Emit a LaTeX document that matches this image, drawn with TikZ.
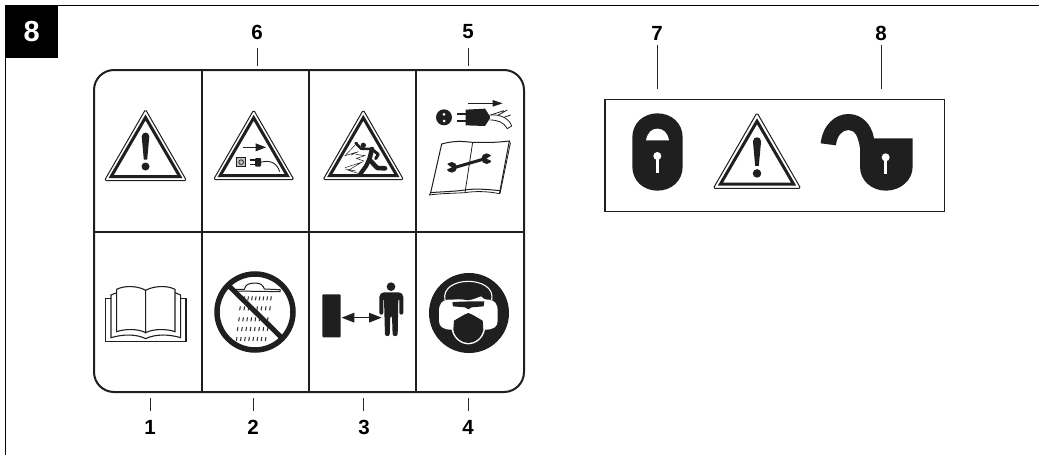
\documentclass[tikz,border=0pt]{standalone}
\usepackage{fontspec}
\setmainfont{Liberation Sans}
\newcommand\WarnTri[4]{%cx, apexY, scale, content
  \begin{scope}[shift={(#1,#2)},scale=#3]
    \draw[ink,line width=1pt,fill=white,rounded corners=1.5pt,line join=round] (0,0) -- (41,71) -- (-41,71) -- cycle;
    \draw[ink,line width=3pt,fill=white,line join=miter] (0,8) -- (34.3,67) -- (-34.3,67) -- cycle;
    #4
  \end{scope}}
\newcommand\Bang{%
  \fill[ink] (-3.8,27) .. controls (-3.8,21.8) and (3.8,21.8) .. (3.8,27) -- (1.7,50) -- (-1.7,50) -- cycle;
  \fill[ink] (0,57) circle[radius=4];}
\newcommand\KeyHole[2]{%
  \fill[white] (#1,#2) circle[radius=12];
  \fill[white] (#1-4,#2) rectangle (#1+4,#2+50);}
\tikzset{
  ink/.style={color=black!88},
  numlabel/.style={font=\fontsize{20.5}{21}\selectfont\bfseries,text=black,inner sep=0pt},
  tickmark/.style={draw=black!85,line width=1pt},
  zoomA/.style={shift={(90,60)},scale=1/3},
  zoomB/.style={shift={(300,60)},scale=1/3},
  zoomC/.style={shift={(90,230)},scale=1/3},
  zoomD/.style={shift={(300,230)},scale=1/3},
  zoomE/.style={shift={(600,20)},scale=1/3},
  thinline/.style={ink,line width=1.1pt},
}
\begin{document}
\begin{tikzpicture}[x=1pt,y=-1pt]
\useasboundingbox (0,0) rectangle (1039,455);
% page frame
\draw[black,line width=1pt] (5.5,455) -- (5.5,5.5) -- (1039,5.5);
\node[fill=black,minimum width=53pt,minimum height=53pt,inner sep=0pt,anchor=north west,text=white,font=\fontsize{29}{30}\selectfont\bfseries] (title) at (5,5) {8};
% panel
\draw[ink,line width=2pt,rounded corners=20pt] (94,70) rectangle (524,392);
\draw[ink,line width=2pt] (94,232) -- (524,232);
\draw[ink,line width=2pt] (201.5,70) -- (201.5,392);
\draw[ink,line width=2pt] (308.5,70) -- (308.5,392);
\draw[ink,line width=2pt] (416,70) -- (416,392);
% labels
\node[numlabel] (n6) at (257,32) {6};
\node[numlabel] (n5) at (468,32) {5};
\node[numlabel] (n7) at (657,33) {7};
\node[numlabel] (n8) at (881,33) {8};
\node[numlabel] (n1) at (150,427) {1};
\node[numlabel] (n2) at (253,427) {2};
\node[numlabel] (n3) at (364,427) {3};
\node[numlabel] (n4) at (468,427) {4};
\coordinate (t6a) at (257,48); \coordinate (t6b) at (257,66);
\coordinate (t5a) at (468,48); \coordinate (t5b) at (468,66);
\coordinate (t7a) at (657,45); \coordinate (t7b) at (657,89);
\coordinate (t8a) at (881,45); \coordinate (t8b) at (881,89);
\coordinate (t1a) at (150,398); \coordinate (t1b) at (150,411);
\coordinate (t2a) at (253,398); \coordinate (t2b) at (253,411);
\coordinate (t3a) at (363.5,398); \coordinate (t3b) at (363.5,411);
\coordinate (t4a) at (468,398); \coordinate (t4b) at (468,411);
\foreach \k in {1,...,8} {\draw[tickmark] (t\k a) -- (t\k b);}
% warning triangles
\WarnTri{145.5}{109.5}{1}{\Bang}
\WarnTri{253.7}{110}{0.98}{}
\WarnTri{363.3}{110}{0.98}{}
\WarnTri{757}{112.7}{1.065}{\Bang}
% unplug arrow and plug
\begin{scope}[zoomA]
  \draw[ink,line width=1pt] (460,262) -- (500,262);
  \fill[ink] (497,250) -- (528,262) -- (497,274) -- cycle;
  \draw[ink,line width=0.9pt,fill=black!25] (440,293) rectangle (467,320);
  \draw[ink,line width=0.7pt] (453.5,306.5) circle[radius=7];
  \draw[ink,line width=1.4pt] (480,300) -- (497,300) (480,313) -- (497,313);
  \fill[ink,rounded corners=1pt] (495,294) rectangle (513,320);
  \draw[ink,line width=0.9pt] (512,307) .. controls (535,300) and (560,305) .. (569,335);
\end{scope}
% running figure
\begin{scope}[shift={(335,125)},scale=1/3]
  \fill[ink] (85,61) circle[radius=8];
  \draw[ink,line width=4.6pt,line cap=round,line join=round] (111,72) -- (103,104) -- (127,129) -- (150,130);
  \draw[ink,line width=4.2pt,line cap=round,line join=round] (103,102) -- (94,122) -- (76,147);
  \draw[ink,line width=3pt,line cap=round,line join=round] (108,71) -- (130,88) -- (122,101);
  \draw[ink,line width=2.6pt,line cap=round,line join=round] (108,72) -- (78,71) -- (62,54);
  \draw[ink,line width=0.5pt] (68,52) -- (30,92) -- (70,80) -- (48,90) (62,88) -- (90,92) -- (64,100) -- (86,108) (30,128) -- (80,112) -- (40,136) -- (72,146) (30,132) -- (62,138);
\end{scope}
% socket, plug, wires, arrow
\begin{scope}[zoomB]
  \draw[ink,line width=1pt] (503,130) -- (582,130);
  \fill[ink] (578,120) -- (608,130) -- (578,140) -- cycle;
  \fill[ink] (432,172) circle[radius=24];
  \fill[white] (432,163) circle[radius=4.5] (432,183) circle[radius=4.5];
  \draw[ink,line width=2.2pt] (472,161) -- (498,161) (472,184) -- (498,184);
  \fill[ink] (497,149) -- (555,146) -- (572,172) -- (555,198) -- (497,196) -- cycle;
  \draw[ink,line width=0.8pt,fill=white] (570,165) .. controls (605,162) and (628,178) .. (635,198) -- (622,206) .. controls (612,188) and (595,180) .. (570,180);
  \draw[ink,line width=0.8pt] (572,165) -- (612,152) (595,165) -- (622,150) (612,172) -- (632,165);
  % book with wrench
  \draw[ink,line width=1pt,fill=white] (425,252) .. controls (470,240) and (490,245) .. (518,247) .. controls (550,248) and (590,248) .. (628,243) -- (600,392) .. controls (560,388) and (525,385) .. (495,390) .. controls (460,395) and (425,395) .. (392,398) -- cycle;
  \draw[ink,line width=0.8pt] (392,398) -- (388,405) .. controls (425,400) and (460,400) .. (495,398) .. controls (530,392) and (570,395) .. (598,401) -- (600,392);
  \draw[ink,line width=0.8pt] (628,243) -- (631,250) -- (600,401);
  \draw[ink,line width=0.8pt] (518,247) -- (495,398);
  \draw[ink,line width=3pt] (462,323) -- (552,297);
  \fill[ink] (455,322) circle[radius=16];
  \fill[ink] (560,296) circle[radius=16];
  \fill[white] (436,310) -- (455,322) -- (436,330) -- cycle;
  \fill[white] (580,283) -- (560,296) -- (580,305) -- cycle;
\end{scope}
% open book
\begin{scope}[zoomC]
  \draw[thinline,fill=white] (47,205) rectangle (288,335);
  \draw[thinline,fill=white] (80,188) -- (63,195) -- (63,323) .. controls (100,312) and (140,312) .. (167,326) .. controls (195,312) and (235,312) .. (272,323) -- (272,195) -- (255,188) -- cycle;
  \draw[thinline,fill=white] (80,178) .. controls (105,165) and (145,168) .. (167,181) -- (167,308) .. controls (145,296) and (105,296) .. (80,305) -- cycle;
  \draw[thinline,fill=white] (255,178) .. controls (230,165) and (190,168) .. (167,181) -- (167,308) .. controls (190,296) and (230,296) .. (255,305) -- cycle;
\end{scope}
% no shower
\begin{scope}[shift={(225,275)},scale=1/3]
  \draw[ink,line width=1pt] (25,43) -- (58,43) .. controls (62,28) and (70,25) .. (90,24) .. controls (108,24) and (115,32) .. (118,42) -- (165,44) -- (165,50) -- (25,48) -- cycle;
  \foreach \y/\sx/\ex in {70/58/138,100/45/135,133/42/128,162/38/128,192/35/122} {
    \foreach \i in {0,1,2,3,4,5,6,7} {
      \pgfmathsetmacro\xx{\sx+(\ex-\sx)*\i/7}
      \draw[black!80,line width=1.05pt] (\xx+1,\y-6) -- (\xx-1,\y+6);
    }
  }
\end{scope}
\draw[ink,line width=5.5pt] (255,312) circle[radius=38];
\draw[ink,line width=5pt] (229,286) -- (282,338);
% distance symbol
\begin{scope}[zoomD]
  \fill[ink,rounded corners=1pt] (67,193) rectangle (122,322);
  \draw[ink,line width=1.2pt] (150,263) -- (220,263);
  \fill[ink] (125,263) -- (163,248) -- (163,278) -- cycle;
  \fill[ink] (245,263) -- (207,248) -- (207,278) -- cycle;
  \fill[ink] (273,170) circle[radius=13];
  \fill[ink,rounded corners=2pt] (238,254) -- (238,195) -- (246,187) -- (302,187) -- (310,195) -- (310,254) -- (298,254) -- (298,205) -- (295,205) -- (293,318) -- (278,318) -- (276,258) -- (271,258) -- (269,318) -- (255,318) -- (252,205) -- (250,205) -- (250,254) -- cycle;
\end{scope}
% eye and ear protection
\fill[ink] (469,313) circle[radius=40];
\begin{scope}[shift={(425,268)},scale=1/3]
  \draw[white,line width=1.1pt] (60,96) .. controls (52,60) and (90,40) .. (130,40) .. controls (170,40) and (208,60) .. (200,96);
  \fill[white] (42,130) .. controls (42,108) and (50,97) .. (68,95) .. controls (85,97) and (100,90) .. (125,97) .. controls (140,97) and (155,90) .. (168,85) .. controls (172,92) and (180,95) .. (192,95) .. controls (210,97) and (218,108) .. (218,130) -- (218,158) .. controls (218,175) and (208,185) .. (180,185) .. controls (175,212) and (152,229) .. (130,229) .. controls (108,229) and (85,212) .. (80,185) .. controls (52,185) and (42,175) .. (42,158) -- cycle;
  \fill[ink] (82,103) .. controls (100,100) and (160,100) .. (178,100) -- (176,115) -- (140,118) -- (130,124) -- (120,118) -- (84,115) -- cycle;
  \fill[ink] (87,158) -- (118,140) -- (130,135) -- (142,140) -- (173,158) -- (175,185) .. controls (170,210) and (150,225) .. (130,225) .. controls (110,225) and (90,210) .. (85,185) -- cycle;
\end{scope}
% lock box
\draw[ink,line width=1.1pt] (605,99.5) rectangle (944.5,211.5);
\begin{scope}[zoomE]
  \fill[ink] (97,352) .. controls (97,310) and (130,280) .. (172,280) .. controls (215,280) and (248,310) .. (248,352) -- (248,440) .. controls (248,482) and (215,512) .. (172,512) .. controls (130,512) and (97,482) .. (97,440) -- cycle;
  \fill[white] (138,361) .. controls (142,338) and (155,326) .. (172,326) .. controls (190,326) and (203,338) .. (207,361) -- cycle;
  \KeyHole{172}{408}
  \fill[ink] (662,370) .. controls (668,315) and (705,282) .. (745,282) .. controls (785,282) and (815,312) .. (822,355) -- (938,355) -- (938,440) .. controls (938,482) and (900,512) .. (858,512) .. controls (815,512) and (780,482) .. (780,440) -- (780,385) .. controls (775,350) and (765,330) .. (745,330) .. controls (725,330) and (710,350) .. (708,376) -- cycle;
  \KeyHole{857}{412}
\end{scope}
\end{tikzpicture}
\end{document}
